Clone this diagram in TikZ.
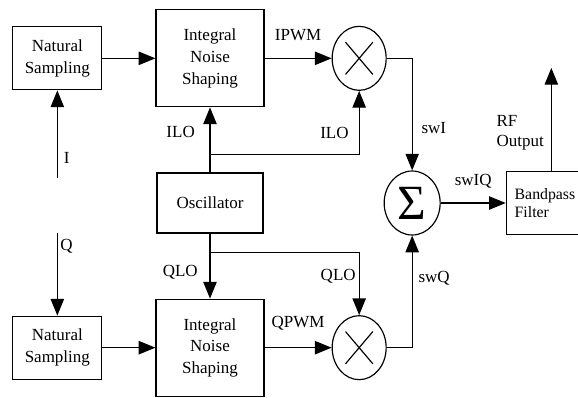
\documentclass[tikz,border=0pt]{standalone}
\usepackage{fontspec}
\setmainfont{Liberation Serif}
\usetikzlibrary{
    shapes.geometric,
    arrows.meta,
    positioning,
    calc,
}

\begin{document}
\begin{tikzpicture}[
    node distance= 1cm,
    >={Triangle[length=0.5cm, width=0.4cm]},
    line width=1pt,
    every node/.style={font=\fontsize{14.5}{18.5}\selectfont},
    block/.style={draw, align=center, inner sep=2pt},
    sampler/.style={block, minimum width=2.67cm, minimum height=1.89cm},
    shaper/.style={block, minimum width=3.24cm, minimum height=2.91cm},
    mixer/.style={draw, ellipse, inner sep=0pt, minimum width=1.62cm, minimum height=1.92cm},
    adder/.style={mixer, minimum width=1.68cm},
    lbl/.style={inner sep=1.5pt},
]

\useasboundingbox (0,0) rectangle (17.34,-11.91);

\node[block, minimum width=3.18cm, minimum height=1.8cm] (osc) at (6.3,-6.09) {Oscillator};
\node[shaper] (ins-i) [above=1.95cm of osc] {Integral\\Noise\\Shaping};
\node[shaper] (ins-q) [below=1.95cm of osc] {Integral\\Noise\\Shaping};
\node[sampler] (ns-i) [left=1.59cm of ins-i] {Natural\\Sampling};
\node[sampler] (ns-q) [left=1.59cm of ins-q] {Natural\\Sampling};

\node[mixer] (mix-i) [right=2.01cm of ins-i] {};
\node[mixer] (mix-q) [right=2.01cm of ins-q] {};
\foreach \m in {mix-i, mix-q} {
    \draw ($(\m)!0.7!(\m.north west)$) -- ($(\m)!0.7!(\m.south east)$);
    \draw ($(\m)!0.7!(\m.north east)$) -- ($(\m)!0.7!(\m.south west)$);
}
\node[adder] (sum) [right=3.6cm of osc] {\fontsize{42}{42}\selectfont Σ};
\node[block, align=left, text width=2.2cm, minimum width=2.7cm, minimum height=1.89cm, font=\fontsize{13.5}{16}\selectfont] (bpf) [right=1.95cm of sum] {Bandpass\\Filter};

\coordinate[below=2.64cm of ns-i.south] (i-in);
\coordinate[above=2.49cm of ns-q.north] (q-in);
\coordinate (ji) at ($(osc.north)+(0,0.54)$);
\coordinate (jq) at ($(osc.south)+(0,-0.57)$);
\coordinate[above=3.09cm of bpf.north] (rf);

% in-phase branch
\draw[->] (i-in) -- node[lbl, pos=0.23, right=3.5pt] {I} (ns-i);
\draw[->] (ns-i) -- (ins-i);
\draw[->] (osc) -- node[lbl, pos=0.63, left=11pt] {ILO} (ins-i);
\draw[->] (ins-i) -- node[lbl, above=13pt] {IPWM} (mix-i);
\draw[->] (ji) -| node[lbl, pos=0.67, left=7pt] {ILO} (mix-i);
\draw[->] (mix-i) -| node[lbl, pos=0.81, right=6pt] {swI} (sum);

% quadrature branch
\draw[->] (q-in) -- node[lbl, pos=0.17, right=0.5pt] {Q} (ns-q);
\draw[->] (ns-q) -- (ins-q);
\draw[->] (osc) -- node[lbl, pos=0.6, left=8.5pt] {QLO} (ins-q);
\draw[->] (ins-q) -- node[lbl, above=13pt] {QPWM} (mix-q);
\draw[->] (jq) -| node[lbl, pos=0.69, left=1pt] {QLO} (mix-q);
\draw[->] (mix-q) -| node[lbl, pos=0.81, right=3.5pt] {swQ} (sum);

% output
\draw[->] (sum) -- node[lbl, above=10.5pt] {swIQ} (bpf);
\draw[->] (bpf.north) -- node[lbl, pos=0.37, left=4.5pt, align=left, font=\fontsize{14.5}{16.5}\selectfont] {RF\\Output} (rf);

\end{tikzpicture}
\end{document}
